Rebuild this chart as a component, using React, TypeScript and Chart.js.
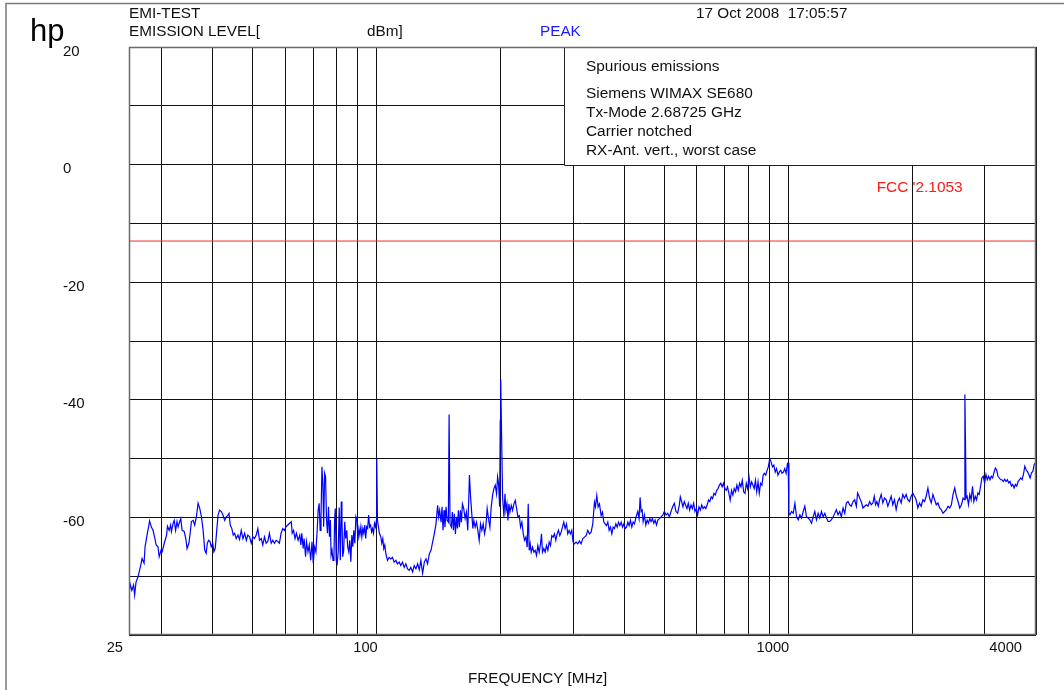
import React, { useEffect, useRef } from "react";
import { Chart, registerables } from "chart.js";

Chart.register(...registerables);

// ---- axis definitions ----
const gridFreqsMHz = [25, 30, 40, 50, 60, 70, 80, 90, 100, 200, 300, 400, 500, 600, 700, 800, 900, 1000, 2000, 3000, 4000];
const xTickLabels = [25, 100, 1000, 4000];
const yTickLabels = [20, 0, -20, -40, -60];
const yMin = -80;
const yMax = 20;

// ---- limit line (FCC) ----
const limitDbm = -13;
const limitLabel = "FCC '2.1053";
const limitLabelAtMHz = 1640;

// ---- texts ----
const headerTitle = "EMI-TEST";
const headerLevel = "EMISSION LEVEL[";
const headerUnit = "dBm]";
const headerDetector = "PEAK";
const headerDate = "17 Oct 2008  17:05:57";
const xAxisTitle = "FREQUENCY [MHz]";
const infoLines = ["Spurious emissions", "Siemens WIMAX SE680", "Tx-Mode 2.68725 GHz", "Carrier notched", "RX-Ant. vert., worst case"];
const infoBoxFromMHz = 285;

// ---- measured trace [MHz, dBm] ----
const band1: [number, number][] = [
  [25.0, -73.5], [25.15, -71.25], [25.4, -72.4], [25.65, -71.5], [25.8, -73.2], [26.0, -71.0], [26.3, -70.1], [26.7, -68.1],
  [26.9, -67.0], [27.2, -67.8], [27.35, -65.0], [27.7, -62.7], [27.95, -61.3], [28.05, -60.6], [28.35, -61.7], [28.6, -62.2],
  [28.9, -63.6], [29.1, -64.7], [29.4, -65.0], [29.6, -66.7], [29.9, -65.6], [30.1, -65.85], [30.45, -64.4], [30.85, -63.0],
  [31.0, -61.5], [31.3, -62.2], [31.55, -61.3], [31.7, -62.4], [32.0, -61.0], [32.2, -60.5], [32.45, -62.2], [32.7, -60.7],
  [32.9, -61.6], [33.2, -60.7], [33.4, -60.2], [33.65, -62.2], [34.05, -62.4], [34.35, -63.6], [34.6, -65.3], [34.95, -64.4],
  [35.2, -62.7], [35.45, -60.7], [35.8, -60.5], [36.1, -61.3], [36.45, -59.9], [36.8, -57.6], [37.15, -58.5], [37.5, -59.9],
  [37.85, -62.2], [38.2, -65.6], [38.5, -66.1], [38.75, -64.4], [39.05, -63.9], [39.35, -64.1], [39.6, -65.0], [39.95, -64.4],
  [40.2, -65.85], [40.5, -65.3], [40.85, -62.2], [41.15, -59.6], [41.5, -58.75], [41.9, -59.0], [42.3, -59.6], [42.7, -60.5],
  [43.1, -59.9], [43.5, -59.6], [43.75, -59.3], [44.05, -61.3], [44.45, -61.9], [44.8, -63.0], [45.15, -62.7], [45.55, -63.6],
  [46.0, -63.0], [46.4, -63.75], [46.85, -62.2], [47.3, -63.6], [47.75, -62.7], [48.2, -63.9], [48.6, -63.0], [49.1, -63.3],
  [49.55, -64.4], [50.0, -63.3], [50.45, -63.6], [50.95, -63.0], [51.4, -61.9], [51.9, -63.9], [52.4, -63.6], [52.85, -64.7],
  [53.35, -63.3], [53.85, -64.4], [54.35, -64.1], [54.85, -62.7], [55.4, -64.4], [55.9, -63.9], [56.4, -64.4], [56.95, -63.9],
  [57.5, -64.1],
];

const band2: [number, number][] = [
  [58.0, -64.4], [58.55, -62.7], [59.1, -61.9], [59.65, -62.2], [60.2, -61.6], [60.8, -61.3], [61.4, -61.0], [62.0, -60.75],
  [62.3, -62.7], [62.8, -62.2], [63.3, -63.6], [63.8, -62.7], [64.4, -63.9], [65.0, -63.0], [65.4, -64.7], [65.75, -62.7],
  [66.25, -65.3], [66.6, -63.6], [67.15, -66.7], [67.5, -64.15], [68.05, -65.85], [68.55, -64.7], [69.1, -67.3], [69.6, -64.15],
  [70.1, -67.8], [70.65, -65.0], [71.15, -65.85], [71.65, -62.2], [72.05, -58.75], [72.45, -57.6], [72.85, -62.2], [73.2, -59.9],
  [73.6, -51.4], [74.0, -54.8], [74.3, -61.6], [74.7, -52.5], [75.1, -53.1], [75.5, -60.45], [75.9, -62.7], [76.35, -58.2],
  [76.75, -63.3], [77.15, -60.45], [77.45, -66.4], [77.85, -65.6], [78.3, -67.3], [78.7, -66.7], [79.0, -60.45], [79.3, -58.5],
  [79.7, -67.3], [80.15, -67.8], [80.6, -65.85], [81.05, -58.3], [81.55, -67.3], [82.0, -57.3], [82.3, -59.9], [82.65, -66.7],
  [83.1, -65.6], [83.6, -60.75], [84.05, -63.6], [84.55, -62.2], [85.0, -65.0], [85.5, -65.85], [86.0, -63.9], [86.5, -67.55],
  [87.0, -63.0], [87.45, -65.0], [87.95, -62.2], [88.45, -64.4], [89.0, -59.9], [89.5, -60.45], [90.0, -63.9], [90.5, -61.9],
  [91.0, -63.0], [91.5, -61.6], [92.0, -63.3], [92.5, -61.9], [93.0, -62.7], [93.5, -61.3], [94.0, -63.6], [94.5, -61.6],
  [95.05, -61.9], [95.55, -59.6], [96.1, -61.6], [96.6, -61.3], [97.15, -62.45], [97.65, -61.9], [98.2, -62.7], [98.75, -61.0],
  [99.3, -61.6], [99.85, -60.45], [100.0, -50.0], [100.4, -60.45], [100.95, -61.6], [101.5, -62.7], [102.3, -63.3], [102.85, -64.4],
  [103.45, -63.6], [104.0, -65.3], [104.6, -64.7], [105.2, -66.1],
];

const band3: [number, number][] = [
  [106.2, -67.3], [107.2, -66.8], [108.2, -67.05], [109.2, -66.8], [110.2, -67.6], [111.3, -67.3], [112.3, -67.9], [113.4, -67.6],
  [114.4, -68.2], [115.5, -67.6], [116.6, -68.5], [117.7, -67.9], [118.8, -68.75], [119.9, -69.0], [121.0, -68.5], [122.2, -69.3],
  [123.3, -68.2], [124.5, -68.75], [125.7, -67.9], [126.9, -68.9], [128.0, -67.3], [129.25, -69.5], [130.5, -67.6], [131.7, -67.05],
  [132.9, -67.9], [134.2, -66.2], [135.45, -65.6], [136.7, -64.2], [138.0, -62.8], [139.3, -61.1], [140.6, -57.95], [141.4, -59.9],
  [142.2, -58.8], [143.3, -60.8], [144.1, -58.2], [144.9, -62.2], [145.7, -58.8], [146.5, -61.65], [147.4, -58.2], [148.2, -60.5],
  [149.3, -60.8], [149.9, -42.5], [150.7, -61.1], [151.85, -61.65], [152.7, -59.1], [153.55, -62.2], [154.4, -59.4], [155.3, -62.8],
  [156.2, -59.9], [157.05, -61.9], [157.9, -58.8], [158.8, -61.65], [159.7, -58.8], [160.6, -60.8], [161.5, -57.7], [162.7, -58.5],
  [164.0, -60.2], [165.2, -59.1], [166.4, -62.2], [167.4, -56.5], [168.0, -52.8], [168.95, -56.25], [170.2, -59.4], [171.2, -61.9],
  [172.15, -60.5], [173.45, -61.65], [174.75, -60.8], [176.05, -62.2], [177.4, -63.9], [178.7, -61.1], [180.05, -62.2], [181.4, -61.1],
  [182.8, -62.8], [184.1, -61.65], [185.5, -58.5], [186.9, -60.2], [188.35, -61.65], [189.75, -58.2], [191.2, -56.25], [192.6, -55.1],
  [194.05, -54.5], [195.5, -56.0], [196.65, -53.1], [197.75, -54.3], [198.85, -58.2], [199.6, -43.5], [200.1, -36.5], [201.1, -46.3],
  [202.2, -56.5], [203.75, -59.9], [204.9, -56.0], [206.05, -58.8], [207.2, -57.7], [208.35, -60.5], [209.5, -57.7], [210.7, -59.1],
  [212.3, -57.95], [213.85, -58.8], [215.45, -57.7], [217.05, -57.1], [218.7, -58.5], [220.3, -59.9], [222.0, -59.7], [223.6, -61.65],
  [225.3, -60.8], [227.0, -62.8], [228.65, -63.9], [230.4, -63.35], [232.1, -65.05], [233.4, -57.7], [234.7, -65.6], [236.0, -64.5],
  [237.3, -65.9], [239.1, -65.05], [240.9, -65.9], [242.7, -65.6], [244.5, -66.5], [246.3, -64.8], [248.2, -65.9], [250.0, -64.5],
  [251.4, -62.8], [252.8, -65.9], [254.7, -65.3], [256.6, -65.9], [258.5, -64.8], [260.45, -65.6], [262.4, -64.2], [264.4, -64.8],
  [266.3, -63.1], [268.3, -63.35], [270.3, -62.8], [272.35, -63.9], [274.4, -62.8], [276.4, -62.2], [278.5, -63.1], [280.6, -62.5],
  [282.7, -61.65], [284.8, -60.8], [286.9, -61.9], [289.1, -61.1], [291.2, -62.8], [293.4, -62.2], [295.6, -62.8], [297.8, -62.2],
  [300.0, -64.2], [302.25, -64.5], [305.1, -64.2], [307.95, -64.5], [310.8, -64.0], [313.75, -64.5], [316.7, -63.6], [319.7, -63.35],
  [322.7, -63.1], [325.7, -62.2], [328.75, -62.8], [331.85, -62.5], [334.95, -61.1], [338.1, -57.4], [340.0, -58.2], [342.55, -56.25],
  [345.1, -58.2], [347.7, -57.7], [351.0, -59.7], [353.6, -59.1], [356.3, -60.8], [358.9, -61.1], [361.6, -61.4], [364.35, -60.8],
  [367.05, -62.2], [369.85, -61.65], [372.6, -62.8], [375.4, -61.65], [378.2, -61.9], [381.05, -61.1], [383.95, -61.65], [386.8, -60.8],
  [389.7, -61.4], [392.65, -60.8], [395.6, -61.65], [398.5, -61.1], [401.5, -61.9], [404.5, -61.65], [407.5, -60.8], [410.5, -61.4],
  [413.6, -60.5], [416.7, -61.65], [419.8, -60.8], [423.0, -61.1],
];

const band4: [number, number][] = [
  [426.8, -59.9], [430.8, -59.0], [434.0, -60.2], [436.5, -56.6], [439.0, -59.0], [441.5, -58.75], [443.9, -60.7], [447.3, -59.6],
  [450.6, -61.3], [454.0, -60.45], [457.4, -61.0], [460.8, -60.2], [464.2, -60.7], [467.7, -60.2], [471.2, -61.0], [474.7, -60.45],
  [478.3, -61.3], [481.9, -60.45], [486.4, -60.2], [491.0, -59.9], [495.5, -59.6], [500.0, -59.0], [504.7, -59.6], [509.4, -59.3],
  [514.1, -59.9], [518.9, -59.0], [523.7, -58.2], [528.7, -57.6], [533.6, -59.0], [538.6, -59.3], [543.6, -57.9], [546.6, -56.5],
  [550.7, -57.3], [554.8, -58.2], [559.0, -57.3], [563.2, -57.9], [567.4, -58.5], [571.6, -57.6], [575.9, -58.75], [580.2, -57.9],
  [584.6, -58.5], [589.0, -57.6], [593.4, -59.0], [597.8, -58.5], [602.3, -59.6], [606.9, -58.2], [611.5, -58.75], [616.2, -57.9],
  [620.8, -58.5], [625.6, -58.2], [630.4, -58.5], [635.2, -57.9], [640.0, -57.05], [644.9, -57.3], [649.9, -56.5], [654.8, -56.8],
  [659.9, -55.9], [664.9, -56.2], [670.0, -55.4], [675.1, -55.1], [680.3, -54.5], [685.5, -54.2], [690.8, -54.8], [696.1, -54.2],
  [701.3, -55.1], [706.6, -55.4], [711.9, -54.8], [717.3, -55.9], [722.7, -57.05], [728.1, -55.4], [733.6, -56.2], [739.1, -55.1],
  [744.7, -55.65], [750.3, -54.5], [756.0, -55.4], [761.7, -54.2], [767.4, -54.8], [773.2, -53.7], [779.0, -55.65], [784.9, -55.9],
  [790.8, -54.2], [796.8, -55.1], [802.9, -53.1], [808.7, -54.8], [814.6, -53.95], [820.4, -54.5], [826.3, -55.1], [832.3, -53.7],
  [838.3, -55.65], [844.4, -53.95], [850.5, -55.9], [856.6, -54.2], [862.8, -54.5], [869.1, -52.8], [875.4, -52.5], [881.7, -52.8],
  [888.1, -52.0], [894.5, -51.4], [901.7, -50.0], [908.7, -50.6], [915.6, -51.4], [922.6, -51.1], [929.6, -52.3], [936.7, -51.7],
  [943.9, -52.8], [951.1, -52.3], [958.4, -52.0], [965.7, -52.5], [973.1, -52.3], [980.5, -51.7], [988.0, -52.5], [995.5, -50.85],
  [999.5, -50.7],
];

const band5: [number, number][] = [
  [1003.7, -59.3], [1009.3, -59.55], [1018.8, -59.0], [1028.3, -59.3], [1037.9, -57.6], [1047.5, -59.9], [1057.3, -60.4], [1067.2, -59.55],
  [1077.2, -60.1], [1087.2, -59.0], [1097.3, -58.1], [1107.5, -59.9], [1118.0, -60.1], [1128.3, -60.4], [1138.9, -61.0], [1149.5, -59.9],
  [1160.3, -59.0], [1171.1, -60.4], [1182.0, -59.3], [1193.1, -60.1], [1204.3, -59.0], [1215.6, -59.9], [1227.0, -59.3], [1238.4, -60.1],
  [1250.0, -60.7], [1261.7, -60.7], [1273.5, -60.4], [1285.5, -59.9], [1297.6, -59.3], [1309, -58.7], [1321, -59.55], [1334, -59.0],
  [1346, -59.9], [1359, -58.4], [1372, -59.3], [1384, -57.55], [1397, -57.3], [1410, -57.85], [1423, -58.1], [1437, -57.3],
  [1450, -57.0], [1464, -58.1], [1474, -55.85], [1486, -56.4], [1497, -57.0], [1508, -57.55], [1519, -58.4], [1533, -58.1],
  [1548, -57.85], [1562, -58.1], [1577, -57.3], [1591, -57.85], [1606, -57.55], [1618, -56.4], [1630, -57.85], [1642, -57.3],
  [1655, -58.1], [1667, -57.0], [1682, -56.1], [1698, -57.55], [1714, -56.7], [1730, -57.0], [1746, -58.1], [1762, -57.3],
  [1779, -56.4], [1795, -57.85], [1812, -57.0], [1829, -58.7], [1846, -57.3], [1863, -56.7], [1881, -57.55], [1898, -56.1],
  [1916, -56.7], [1934, -56.1], [1952, -57.0], [1970, -57.3], [1989, -56.4], [2007.5, -55.85], [2026.4, -56.4], [2045.6, -57.0],
  [2064.8, -58.4], [2084.3, -57.55], [2104.0, -58.1], [2123.9, -57.0], [2143.8, -57.3], [2164.0, -56.4], [2184.5, -55.0], [2205.1, -56.7],
  [2225.9, -57.55], [2246.9, -56.1], [2268.1, -57.0], [2289.3, -57.85], [2310.9, -57.55], [2332.8, -58.4], [2354.8, -58.7], [2377.0, -59.3],
  [2399.5, -59.0], [2422.1, -58.7], [2444.8, -58.1], [2467.8, -58.4], [2491.1, -57.85], [2514.6, -56.1], [2538.3, -55.0], [2562.3, -56.4],
  [2586.3, -57.3], [2610.7, -58.4], [2635.4, -57.85], [2660.3, -56.7], [2680.3, -57.0], [2687.0, -39.1], [2705.7, -56.7], [2720.9, -56.4],
  [2741.4, -57.85], [2762.0, -56.1], [2783.0, -57.0], [2804.0, -54.7], [2825.1, -57.3], [2846.4, -56.4], [2867.8, -57.0], [2889.4, -55.85],
  [2911.1, -56.1], [2933.0, -54.7], [2955.1, -53.3], [2977.4, -53.0], [3000, -54.15], [3022.6, -52.7], [3045.3, -53.6], [3068.2, -53.0],
  [3091.3, -53.6], [3114.6, -53.0], [3138.1, -53.3], [3161.6, -52.4], [3185.5, -51.6], [3209.4, -51.9], [3233.6, -53.0], [3257.9, -53.3],
  [3282.4, -53.6], [3307.1, -53.6], [3332.0, -53.9], [3357.1, -53.5], [3382.4, -53.9], [3407.8, -53.6], [3433.5, -54.15], [3459.3, -53.9],
  [3485.4, -54.7], [3511.6, -54.4], [3538.0, -55.0], [3564.7, -54.4], [3591.5, -54.7], [3618.6, -53.9], [3645.8, -53.6], [3673.2, -53.3],
  [3700.9, -53.6], [3728.7, -52.7], [3756.8, -51.3], [3785.1, -51.9], [3813.6, -52.2], [3842.3, -52.7], [3871.2, -53.3], [3900.3, -52.4],
  [3929.7, -52.2], [3959.2, -51.0], [3989.0, -50.7], [4000, -50.8],
];

const FONT = "'Liberation Sans', Arial, sans-serif";

const overlayPlugin = {
  id: "emiOverlay",
  beforeDatasetsDraw(chart: any) {
    const { ctx, chartArea: ca, scales } = chart;
    const x = scales.x;
    const y = scales.y;
    const left = Math.round(x.getPixelForValue(infoBoxFromMHz));
    const bottom = Math.round(y.getPixelForValue(0));
    ctx.save();
    ctx.fillStyle = "#ffffff";
    ctx.fillRect(left, ca.top, ca.right - left, bottom - ca.top);
    ctx.strokeStyle = "#222222";
    ctx.lineWidth = 1;
    ctx.beginPath();
    ctx.moveTo(left + 0.5, ca.top);
    ctx.lineTo(left + 0.5, bottom + 0.5);
    ctx.lineTo(ca.right, bottom + 0.5);
    ctx.stroke();
    ctx.fillStyle = "#111111";
    ctx.font = `15.4px ${FONT}`;
    ctx.textBaseline = "middle";
    ctx.textAlign = "left";
    const offs = [20, 47, 66, 85, 103.5];
    infoLines.forEach((t, i) => ctx.fillText(t, left + 22, ca.top + offs[i]));
    // limit label
    ctx.fillStyle = "#ff1a1a";
    ctx.fillText(limitLabel, x.getPixelForValue(limitLabelAtMHz), y.getPixelForValue(limitDbm) - 53);
    ctx.restore();
  },
  afterDraw(chart: any) {
    const { ctx, chartArea: ca, scales } = chart;
    const x = scales.x;
    const y = scales.y;
    ctx.save();
    // plot frame
    ctx.strokeStyle = "#6a6a6a";
    ctx.lineWidth = 1.5;
    ctx.strokeRect(ca.left + 0.5, ca.top + 0.5, ca.right - ca.left - 1, ca.bottom - ca.top - 1);
    // outer page frame
    ctx.strokeStyle = "#7a7a7a";
    ctx.lineWidth = 1.5;
    ctx.beginPath();
    ctx.moveTo(6, 690);
    ctx.lineTo(6, 3.5);
    ctx.lineTo(1064, 3.5);
    ctx.stroke();
    // x tick labels
    ctx.fillStyle = "#111111";
    ctx.font = `14.7px ${FONT}`;
    ctx.textBaseline = "middle";
    ctx.textAlign = "right";
    xTickLabels.forEach((v, i) => {
      const px = x.getPixelForValue(v);
      const shift = i === 0 ? -6 : i === xTickLabels.length - 1 ? -14 : 1;
      ctx.fillText(String(v), px + shift, ca.bottom + 13);
    });
    // y tick labels
    ctx.font = `15px ${FONT}`;
    ctx.textAlign = "left";
    yTickLabels.forEach((v) => {
      ctx.fillText(String(v), 63, y.getPixelForValue(v) + 4.5);
    });
    // axis title
    ctx.font = `15.2px ${FONT}`;
    ctx.fillText(xAxisTitle, 468, 679);
    // header
    ctx.font = `15.3px ${FONT}`;
    ctx.fillText(headerTitle, 129, 13.5);
    ctx.fillText(headerLevel, 129, 31.5);
    ctx.fillText(headerUnit, 367, 31.5);
    ctx.fillText(headerDate, 696, 13.5);
    ctx.fillStyle = "#1a1aff";
    ctx.fillText(headerDetector, 540, 32);
    // logo
    ctx.fillStyle = "#000000";
    ctx.font = `31px ${FONT}`;
    ctx.textBaseline = "alphabetic";
    ctx.fillText("hp", 30, 41);
    ctx.restore();
  },
};

export default function App() {
  const ref = useRef<HTMLCanvasElement | null>(null);

  useEffect(() => {
    if (!ref.current) return;
    const trace = [...band1, ...band2, ...band3, ...band4, ...band5].map(([f, l]) => ({ x: f, y: l }));
    const limit = [
      { x: gridFreqsMHz[0], y: limitDbm },
      { x: gridFreqsMHz[gridFreqsMHz.length - 1], y: limitDbm },
    ];
    const chart = new Chart(ref.current, {
      type: "line",
      data: {
        datasets: [
          { data: trace, borderColor: "#0000ff", borderWidth: 1.2, pointRadius: 0, tension: 0, fill: false },
          { data: limit, borderColor: "rgb(235,45,45)", borderWidth: 1, pointRadius: 0, fill: false },
        ],
      },
      options: {
        responsive: false,
        animation: false,
        devicePixelRatio: 1,
        layout: { padding: { left: 129, top: 47, right: 28, bottom: 55 } },
        plugins: { legend: { display: false }, tooltip: { enabled: false } },
        events: [],
        scales: {
          x: {
            type: "logarithmic",
            min: gridFreqsMHz[0],
            max: gridFreqsMHz[gridFreqsMHz.length - 1],
            afterBuildTicks: (scale: any) => {
              scale.ticks = gridFreqsMHz.map((v) => ({ value: v }));
            },
            ticks: { display: false },
            grid: { color: "#111111", lineWidth: 1, drawTicks: false },
            border: { display: false },
          },
          y: {
            type: "linear",
            min: yMin,
            max: yMax,
            ticks: { display: false, stepSize: 10 },
            grid: { color: "#111111", lineWidth: 1, drawTicks: false },
            border: { display: false },
          },
        },
      },
      plugins: [overlayPlugin],
    });
    return () => chart.destroy();
  }, []);

  return (
    <div style={{ position: "fixed", left: 0, top: 0, width: 1064, height: 690, background: "#fff" }}>
      <canvas ref={ref} width={1064} height={690} />
    </div>
  );
}
